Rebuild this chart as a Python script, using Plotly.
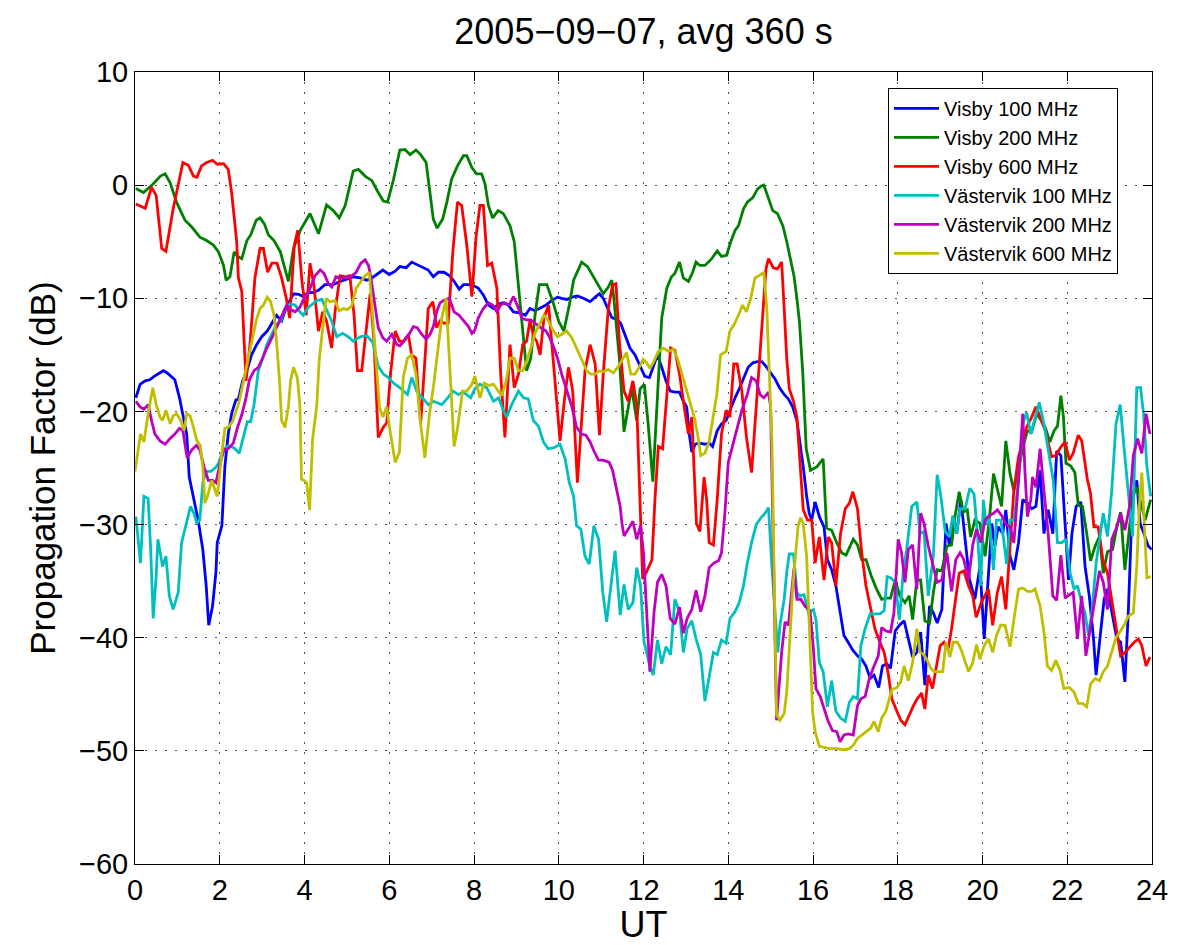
import plotly.graph_objects as go

# (UT hour, propagation factor dB)
visby_100 = [
    (0.02, -18.8), (0.12, -17.6), (0.24, -17.3), (0.35, -17.2), (0.45, -16.9), (0.55, -16.7), (0.67, -16.4),
    (0.76, -16.6), (0.87, -17.0), (0.94, -17.2), (1.05, -18.8), (1.14, -20.5), (1.22, -22.0), (1.28, -25.8),
    (1.39, -27.8), (1.49, -29.6), (1.6, -32.2), (1.68, -35.4), (1.74, -38.9), (1.83, -37.2), (1.91, -34.2),
    (1.94, -31.6), (2.05, -30.1), (2.12, -24.9), (2.2, -22.0), (2.28, -20.2), (2.38, -19.0), (2.44, -18.9),
    (2.54, -17.3), (2.64, -16.4), (2.75, -15.0), (2.87, -14.1), (2.99, -13.4), (3.12, -12.9), (3.23, -12.2),
    (3.34, -11.5), (3.46, -12.0), (3.56, -10.9), (3.64, -10.3), (3.74, -9.6), (3.86, -9.65), (3.97, -9.85),
    (4.09, -9.5), (4.2, -9.5), (4.33, -9.3), (4.48, -8.8), (4.68, -8.8), (4.84, -8.5), (5.0, -8.3),
    (5.15, -8.1), (5.31, -8.2), (5.47, -8.4), (5.59, -8.2), (5.7, -7.9), (5.85, -7.5), (6.0, -7.9),
    (6.14, -7.6), (6.25, -7.2), (6.4, -7.3), (6.53, -6.8), (6.65, -7.0), (6.81, -7.3), (6.92, -7.5),
    (7.04, -8.1), (7.16, -7.7), (7.29, -7.7), (7.42, -8.0), (7.53, -8.5), (7.65, -9.2), (7.75, -8.8),
    (7.87, -8.8), (7.99, -8.9), (8.1, -9.1), (8.22, -9.7), (8.34, -10.6), (8.46, -10.9), (8.58, -10.5),
    (8.69, -10.4), (8.81, -10.6), (8.93, -11.2), (9.09, -11.3), (9.21, -11.5), (9.32, -10.9), (9.44, -11.1),
    (9.56, -10.9), (9.7, -10.6), (9.83, -10.2), (9.97, -9.9), (10.07, -10.0), (10.19, -10.1), (10.31, -9.9),
    (10.44, -9.8), (10.58, -10.0), (10.74, -10.3), (10.86, -9.9), (10.96, -9.6), (11.05, -10.0), (11.15, -10.9),
    (11.25, -11.7), (11.37, -11.9), (11.46, -12.2), (11.56, -13.2), (11.68, -14.4), (11.8, -15.0), (11.92, -16.0),
    (12.03, -16.9), (12.14, -17.0), (12.23, -16.1), (12.33, -15.0), (12.43, -16.1), (12.53, -17.3), (12.63, -18.2),
    (12.74, -18.3), (12.85, -18.3), (12.94, -19.1), (13.02, -19.6), (13.08, -22.0), (13.14, -23.6), (13.22, -22.9),
    (13.33, -22.8), (13.45, -22.9), (13.55, -22.8), (13.63, -23.1), (13.74, -21.7), (13.84, -21.1), (13.95, -20.8),
    (14.04, -19.9), (14.16, -18.8), (14.26, -18.0), (14.37, -17.0), (14.47, -16.1), (14.58, -15.7), (14.69, -15.6),
    (14.79, -15.6), (14.89, -16.0), (15.0, -16.6), (15.1, -17.1), (15.21, -17.9), (15.32, -18.5), (15.42, -18.9),
    (15.52, -19.6), (15.62, -20.8), (15.69, -22.6), (15.77, -24.9), (15.85, -27.5), (15.91, -29.0), (15.97, -29.6),
    (16.05, -28.0), (16.15, -29.3), (16.26, -30.2), (16.34, -33.1), (16.44, -34.0), (16.54, -35.4), (16.64, -37.8),
    (16.73, -39.8), (16.83, -40.4), (16.94, -41.1), (17.05, -41.6), (17.15, -41.9), (17.25, -42.5), (17.35, -43.6),
    (17.44, -43.3), (17.55, -44.4), (17.64, -42.5), (17.74, -42.3), (17.83, -42.7), (17.94, -39.4), (18.04, -38.9),
    (18.15, -38.5), (18.25, -40.1), (18.35, -41.7), (18.45, -41.3), (18.54, -39.5), (18.64, -44.2), (18.75, -37.2),
    (18.84, -37.8), (18.93, -38.7), (19.04, -37.5), (19.14, -29.9), (19.22, -31.9), (19.31, -29.3), (19.39, -30.8),
    (19.49, -27.8), (19.59, -31.3), (19.69, -34.8), (19.82, -36.6), (19.94, -33.7), (20.04, -40.1), (20.14, -34.6),
    (20.22, -29.9), (20.29, -31.9), (20.37, -30.2), (20.48, -30.8), (20.55, -28.7), (20.65, -32.8), (20.74, -34.0),
    (20.85, -31.6), (20.95, -27.8), (21.06, -28.1), (21.16, -28.6), (21.26, -28.4), (21.36, -25.2), (21.45, -30.8),
    (21.55, -28.7), (21.66, -30.8), (21.75, -23.5), (21.85, -23.9), (21.92, -28.4), (22.03, -34.9), (22.11, -30.8),
    (22.21, -28.4), (22.32, -28.0), (22.42, -33.7), (22.52, -36.3), (22.62, -40.1), (22.68, -43.3), (22.77, -40.1),
    (22.87, -36.6), (22.95, -35.7), (23.05, -37.8), (23.17, -40.1), (23.26, -40.4), (23.36, -43.9), (23.44, -37.8),
    (23.54, -27.5), (23.64, -26.1), (23.72, -29.9), (23.81, -30.8), (23.91, -31.9), (23.99, -32.2),
]

visby_200 = [
    (0.02, -0.3), (0.2, -0.65), (0.4, 0.0), (0.6, 0.8), (0.71, 1.0), (0.83, 0.2), (0.98, -1.5), (1.18, -3.1),
    (1.34, -3.7), (1.53, -4.6), (1.69, -4.9), (1.85, -5.3), (1.97, -5.9), (2.09, -7.1), (2.15, -8.4), (2.24, -8.1),
    (2.34, -5.9), (2.42, -6.3), (2.52, -6.5), (2.64, -4.9), (2.73, -4.4), (2.86, -3.1), (2.95, -2.9), (3.05, -3.4),
    (3.15, -4.4), (3.28, -4.9), (3.43, -5.9), (3.54, -7.4), (3.62, -8.5), (3.74, -5.6), (3.9, -4.0), (4.13, -2.5),
    (4.33, -4.3), (4.52, -1.75), (4.68, -2.25), (4.82, -2.9), (4.96, -1.8), (5.15, 1.25), (5.27, 1.4), (5.43, 0.8),
    (5.59, 0.4), (5.74, -0.65), (5.86, -1.4), (5.96, -1.5), (6.1, 0.5), (6.25, 3.1), (6.37, 3.15), (6.49, 2.7),
    (6.63, 3.1), (6.74, 2.7), (6.87, 2.0), (6.96, -0.65), (7.04, -3.0), (7.13, -3.8), (7.26, -3.0), (7.36, -1.5),
    (7.47, 0.5), (7.61, 1.7), (7.75, 2.6), (7.83, 2.6), (7.95, 1.55), (8.06, 1.0), (8.18, 1.0), (8.26, 0.1),
    (8.34, -1.8), (8.44, -2.9), (8.57, -2.25), (8.69, -2.5), (8.85, -3.6), (8.95, -5.0), (9.05, -8.8), (9.15, -13.2),
    (9.24, -16.4), (9.34, -15.3), (9.44, -11.5), (9.54, -8.8), (9.72, -8.8), (9.86, -10.3), (10.0, -12.05),
    (10.12, -12.9), (10.25, -10.6), (10.35, -8.4), (10.42, -7.8), (10.54, -6.8), (10.68, -7.2), (10.8, -8.0),
    (10.94, -9.0), (11.05, -9.6), (11.17, -9.0), (11.25, -8.4), (11.3, -10.0), (11.43, -15.3), (11.54, -21.8),
    (11.62, -20.2), (11.72, -17.9), (11.84, -20.8), (11.92, -18.0), (12.02, -17.6), (12.11, -21.1), (12.22, -26.2),
    (12.43, -11.75), (12.55, -9.1), (12.66, -8.1), (12.74, -7.8), (12.85, -6.8), (12.94, -8.2), (13.06, -8.5),
    (13.16, -7.7), (13.24, -6.8), (13.33, -7.1), (13.45, -7.1), (13.61, -6.5), (13.74, -5.8), (13.84, -6.3),
    (13.96, -6.2), (14.06, -5.0), (14.16, -4.0), (14.24, -3.6), (14.36, -2.1), (14.45, -1.5), (14.58, -1.1),
    (14.69, -0.35), (14.77, -0.1), (14.84, 0.0), (14.95, -1.1), (15.05, -2.25), (15.16, -2.5), (15.29, -3.6),
    (15.38, -5.0), (15.47, -6.5), (15.55, -8.0), (15.61, -9.7), (15.68, -12.05), (15.76, -16.7), (15.84, -23.3),
    (15.94, -25.2), (16.09, -24.9), (16.24, -24.2), (16.32, -30.3), (16.44, -30.5), (16.56, -31.6), (16.68, -32.5),
    (16.78, -32.7), (16.95, -31.3), (17.05, -31.8), (17.15, -33.1), (17.25, -33.1), (17.38, -34.6), (17.5, -35.7),
    (17.62, -36.6), (17.72, -36.5), (17.83, -36.5), (17.94, -34.9), (18.05, -36.3), (18.17, -36.9), (18.27, -36.3),
    (18.35, -38.4), (18.45, -34.9), (18.54, -34.9), (18.64, -38.5), (18.75, -38.7), (18.84, -36.0), (18.93, -34.0),
    (19.04, -34.1), (19.16, -31.9), (19.27, -31.8), (19.35, -29.3), (19.45, -27.1), (19.55, -28.9), (19.64, -28.7),
    (19.72, -31.1), (19.82, -29.6), (19.94, -29.9), (20.06, -32.8), (20.16, -29.6), (20.26, -25.5), (20.35, -27.0),
    (20.45, -28.4), (20.55, -22.6), (20.65, -25.5), (20.74, -27.0), (20.85, -25.2), (20.95, -23.2), (21.06, -21.7),
    (21.16, -21.8), (21.28, -20.2), (21.37, -20.7), (21.48, -21.4), (21.59, -22.7), (21.69, -21.7), (21.77, -21.3),
    (21.85, -18.6), (21.91, -20.5), (21.97, -24.6), (22.08, -24.8), (22.18, -25.4), (22.26, -28.3), (22.36, -28.4),
    (22.46, -30.8), (22.55, -33.2), (22.66, -31.9), (22.76, -31.05), (22.85, -34.3), (22.95, -32.4), (23.07, -32.2),
    (23.17, -30.2), (23.26, -28.9), (23.36, -34.0), (23.47, -30.2), (23.56, -27.4), (23.64, -26.7), (23.76, -28.4),
    (23.84, -29.6), (23.91, -28.6), (23.97, -27.8),
]

visby_600 = [
    (0.02, -1.67), (0.24, -2.05), (0.39, -0.2), (0.5, -0.9), (0.63, -5.6), (0.73, -5.85), (0.9, -2.1), (1.13, 2.0),
    (1.26, 1.75), (1.38, 0.8), (1.46, 0.7), (1.57, 1.7), (1.69, 2.0), (1.83, 2.2), (1.94, 1.85), (2.09, 1.9),
    (2.2, 1.4), (2.28, -0.65), (2.4, -5.0), (2.44, -8.2), (2.52, -9.4), (2.62, -17.3), (2.72, -13.8), (2.83, -8.2),
    (2.95, -5.6), (3.03, -5.6), (3.13, -7.7), (3.23, -6.9), (3.35, -6.9), (3.46, -8.2), (3.57, -10.0), (3.65, -11.75),
    (3.76, -5.3), (3.84, -4.0), (3.94, -8.5), (4.04, -11.5), (4.13, -6.9), (4.22, -8.8), (4.33, -12.9), (4.43, -11.2),
    (4.52, -12.0), (4.64, -14.4), (4.72, -11.2), (4.84, -8.0), (4.96, -8.1), (5.07, -8.0), (5.17, -11.5),
    (5.25, -16.4), (5.35, -16.4), (5.43, -13.8), (5.55, -9.6), (5.64, -13.8), (5.74, -22.3), (5.86, -21.4),
    (5.94, -21.0), (6.03, -16.7), (6.14, -12.9), (6.24, -13.8), (6.33, -13.8), (6.45, -13.2), (6.53, -15.0),
    (6.63, -15.3), (6.74, -21.1), (6.82, -16.7), (6.92, -10.9), (7.03, -10.3), (7.12, -12.6), (7.2, -12.0),
    (7.29, -12.2), (7.39, -12.2), (7.5, -5.9), (7.61, -1.5), (7.71, -1.8), (7.83, -5.3), (7.95, -9.85), (8.05, -4.5),
    (8.14, -1.8), (8.22, -1.8), (8.32, -7.1), (8.42, -6.9), (8.54, -9.1), (8.63, -16.7), (8.73, -22.3), (8.85, -14.1),
    (8.95, -17.9), (9.05, -16.7), (9.15, -14.1), (9.24, -13.8), (9.32, -12.0), (9.42, -13.5), (9.48, -13.8),
    (9.56, -15.0), (9.65, -11.75), (9.76, -10.6), (9.86, -15.0), (9.95, -19.1), (10.03, -22.6), (10.13, -19.1),
    (10.23, -16.1), (10.33, -18.2), (10.44, -26.3), (10.62, -16.4), (10.74, -14.1), (10.86, -15.8), (10.96, -22.1),
    (11.05, -16.7), (11.17, -10.9), (11.27, -8.8), (11.35, -8.7), (11.43, -13.8), (11.54, -18.2), (11.64, -19.1),
    (11.75, -17.3), (11.84, -19.4), (11.98, -34.8), (12.07, -34.2), (12.2, -33.1), (12.27, -27.8), (12.35, -23.1),
    (12.45, -23.3), (12.55, -18.2), (12.64, -14.4), (12.74, -14.6), (12.85, -16.7), (12.96, -19.6), (13.06, -22.0),
    (13.14, -20.5), (13.22, -26.9), (13.25, -29.9), (13.33, -30.6), (13.43, -25.8), (13.49, -27.8), (13.55, -31.6),
    (13.65, -31.8), (13.74, -27.8), (13.84, -22.0), (13.95, -19.9), (14.04, -20.5), (14.13, -15.8), (14.21, -15.8),
    (14.32, -18.2), (14.43, -22.3), (14.55, -25.4), (14.67, -19.1), (14.79, -12.3), (14.89, -7.4), (14.95, -6.5),
    (15.06, -7.3), (15.16, -7.4), (15.26, -6.8), (15.32, -10.9), (15.38, -15.3), (15.44, -18.0), (15.54, -19.1),
    (15.62, -20.5), (15.71, -25.0), (15.77, -28.7), (15.87, -29.6), (15.97, -29.6), (16.05, -33.4), (16.15, -31.1),
    (16.26, -34.9), (16.36, -31.1), (16.44, -31.6), (16.54, -35.4), (16.65, -30.8), (16.76, -28.6), (16.86, -28.1),
    (16.94, -27.1), (17.05, -28.6), (17.15, -32.5), (17.25, -35.4), (17.36, -37.5), (17.46, -39.2), (17.58, -40.4),
    (17.68, -41.3), (17.78, -43.3), (17.86, -45.4), (17.98, -46.5), (18.07, -47.3), (18.17, -47.7), (18.27, -46.8),
    (18.37, -46.0), (18.46, -45.4), (18.56, -44.9), (18.64, -46.3), (18.72, -43.3), (18.82, -44.5), (18.92, -42.5),
    (19.0, -40.7), (19.09, -40.4), (19.19, -41.0), (19.27, -39.2), (19.37, -36.6), (19.45, -34.3), (19.56, -34.1),
    (19.67, -35.4), (19.77, -36.3), (19.85, -38.2), (19.98, -36.8), (20.14, -35.7), (20.24, -38.9), (20.35, -36.0),
    (20.45, -34.6), (20.55, -37.5), (20.65, -31.9), (20.74, -27.0), (20.85, -24.0), (20.95, -22.6), (21.04, -21.4),
    (21.16, -20.5), (21.26, -19.6), (21.36, -20.5), (21.48, -21.7), (21.63, -24.0), (21.73, -23.9), (21.84, -23.2),
    (21.95, -22.7), (22.05, -24.3), (22.14, -23.7), (22.26, -22.1), (22.34, -22.6), (22.42, -24.6), (22.47, -25.9),
    (22.55, -27.3), (22.63, -30.2), (22.73, -30.2), (22.84, -33.1), (22.95, -34.3), (23.05, -36.6), (23.17, -39.5),
    (23.26, -41.6), (23.36, -41.3), (23.47, -40.8), (23.58, -40.4), (23.68, -40.1), (23.76, -40.7), (23.86, -42.5),
    (23.95, -41.7),
]

vastervik_100 = [
    (0.02, -29.3), (0.08, -31.3), (0.13, -33.4), (0.21, -27.5), (0.31, -27.7), (0.37, -32.2), (0.43, -38.3),
    (0.5, -34.5), (0.54, -31.3), (0.61, -32.8), (0.65, -33.7), (0.73, -32.8), (0.81, -36.3), (0.9, -37.5),
    (1.02, -36.0), (1.1, -31.6), (1.2, -30.1), (1.31, -28.4), (1.39, -29.0), (1.46, -29.9), (1.53, -29.6),
    (1.6, -26.3), (1.68, -25.3), (1.79, -25.3), (1.89, -25.0), (1.97, -24.6), (2.05, -23.7), (2.16, -23.1),
    (2.28, -23.1), (2.36, -23.3), (2.46, -23.7), (2.56, -22.2), (2.65, -20.9), (2.73, -20.9), (2.81, -19.4),
    (2.91, -16.4), (2.99, -15.6), (3.11, -14.1), (3.23, -13.2), (3.34, -12.3), (3.44, -12.0), (3.54, -10.9),
    (3.66, -10.5), (3.78, -10.6), (3.89, -11.2), (3.97, -11.5), (4.09, -10.8), (4.29, -10.2), (4.41, -10.1),
    (4.51, -10.9), (4.64, -12.0), (4.76, -13.4), (4.9, -13.1), (5.03, -13.4), (5.15, -13.8), (5.31, -13.4),
    (5.47, -13.3), (5.61, -13.9), (5.74, -16.0), (5.86, -16.7), (5.98, -17.0), (6.1, -17.5), (6.25, -17.9),
    (6.43, -18.5), (6.53, -17.0), (6.65, -18.2), (6.79, -18.8), (6.92, -19.4), (7.04, -19.1), (7.24, -19.4),
    (7.36, -18.9), (7.5, -18.2), (7.63, -18.5), (7.75, -18.3), (7.92, -18.8), (8.02, -18.0), (8.14, -17.6),
    (8.3, -17.9), (8.46, -19.1), (8.58, -18.8), (8.69, -19.9), (8.77, -20.5), (8.89, -19.4), (9.05, -18.2),
    (9.17, -18.8), (9.28, -18.9), (9.4, -20.8), (9.52, -21.3), (9.64, -22.7), (9.75, -23.3), (9.89, -23.2),
    (10.03, -22.9), (10.15, -24.2), (10.25, -26.3), (10.35, -27.5), (10.42, -30.1), (10.52, -30.4), (10.62, -32.8),
    (10.72, -33.5), (10.83, -30.1), (10.94, -31.3), (11.04, -36.0), (11.13, -38.6), (11.23, -35.7), (11.33, -32.3),
    (11.45, -38.0), (11.54, -35.3), (11.64, -37.5), (11.75, -36.9), (11.84, -33.8), (11.93, -35.4), (12.01, -40.3),
    (12.14, -42.4), (12.23, -43.3), (12.33, -40.2), (12.43, -42.3), (12.53, -40.8), (12.64, -41.5), (12.74, -36.6),
    (12.85, -37.7), (12.94, -41.3), (13.03, -39.2), (13.14, -38.5), (13.24, -40.1), (13.35, -41.5), (13.45, -45.6),
    (13.55, -43.3), (13.65, -41.3), (13.74, -41.5), (13.84, -40.2), (13.95, -40.5), (14.04, -38.3), (14.16, -37.7),
    (14.26, -36.9), (14.36, -35.4), (14.45, -33.4), (14.55, -31.6), (14.66, -30.0), (14.77, -29.4), (14.87, -29.0),
    (14.95, -28.5), (15.03, -33.7), (15.17, -41.3), (15.22, -38.9), (15.32, -36.6), (15.38, -34.2), (15.44, -32.6),
    (15.54, -32.6), (15.62, -36.0), (15.68, -36.3), (15.79, -36.2), (15.89, -37.8), (16.01, -37.5), (16.07, -38.4),
    (16.15, -42.2), (16.24, -43.0), (16.34, -46.1), (16.44, -43.8), (16.54, -46.5), (16.65, -47.1), (16.76, -47.4),
    (16.86, -45.7), (16.95, -45.2), (17.05, -45.4), (17.13, -40.7), (17.23, -39.2), (17.35, -37.9), (17.46, -37.9),
    (17.58, -37.9), (17.68, -37.6), (17.75, -34.6), (17.83, -34.7), (17.94, -35.1), (18.04, -38.4), (18.13, -34.1),
    (18.21, -32.2), (18.33, -28.4), (18.45, -28.0), (18.53, -30.8), (18.62, -30.6), (18.72, -36.3), (18.84, -32.8),
    (18.93, -25.6), (19.01, -27.3), (19.12, -30.6), (19.22, -31.1), (19.3, -29.2), (19.39, -30.8), (19.47, -28.6),
    (19.59, -28.6), (19.7, -26.8), (19.8, -27.3), (19.88, -30.8), (19.96, -35.4), (20.02, -27.8), (20.08, -29.9),
    (20.16, -29.4), (20.26, -34.0), (20.33, -29.6), (20.43, -29.6), (20.49, -31.05), (20.57, -33.5), (20.65, -29.6),
    (20.74, -29.6), (20.85, -26.1), (20.95, -21.1), (21.04, -20.1), (21.14, -22.0), (21.24, -20.5), (21.34, -19.2),
    (21.45, -21.1), (21.55, -23.5), (21.67, -26.1), (21.77, -31.6), (21.87, -31.6), (21.97, -31.3), (22.07, -34.3),
    (22.16, -35.7), (22.24, -35.4), (22.34, -36.9), (22.42, -37.8), (22.5, -39.8), (22.58, -37.8), (22.68, -33.4),
    (22.77, -30.8), (22.85, -29.0), (22.95, -31.05), (23.05, -27.0), (23.15, -21.1), (23.25, -19.4), (23.34, -23.2),
    (23.44, -27.0), (23.54, -31.05), (23.64, -17.9), (23.73, -17.9), (23.8, -20.2), (23.88, -24.9), (23.97, -27.5),
]

vastervik_200 = [
    (0.02, -19.1), (0.12, -19.6), (0.21, -19.8), (0.31, -19.4), (0.39, -20.8), (0.47, -22.0), (0.59, -22.6),
    (0.71, -22.9), (0.83, -22.4), (0.94, -22.0), (1.05, -21.5), (1.13, -21.7), (1.23, -24.1), (1.34, -23.4),
    (1.45, -23.0), (1.53, -23.4), (1.63, -24.9), (1.73, -26.1), (1.83, -26.1), (1.91, -26.3), (2.0, -24.7),
    (2.1, -23.4), (2.2, -23.3), (2.32, -22.8), (2.42, -21.4), (2.52, -20.3), (2.62, -18.8), (2.7, -17.2),
    (2.81, -16.4), (2.91, -16.1), (3.01, -15.3), (3.11, -14.4), (3.23, -13.5), (3.34, -12.6), (3.46, -11.5),
    (3.58, -10.6), (3.67, -11.0), (3.78, -11.2), (3.89, -10.8), (3.99, -10.0), (4.09, -9.5), (4.25, -8.0),
    (4.37, -7.5), (4.46, -7.8), (4.56, -8.7), (4.64, -9.0), (4.74, -8.1), (4.84, -8.2), (4.96, -8.2), (5.09, -8.1),
    (5.22, -7.7), (5.33, -6.9), (5.43, -6.6), (5.51, -7.1), (5.56, -8.0), (5.64, -10.0), (5.74, -12.6),
    (5.85, -13.5), (5.94, -13.8), (6.06, -13.2), (6.18, -14.1), (6.25, -14.2), (6.37, -13.7), (6.48, -13.1),
    (6.57, -12.5), (6.66, -12.6), (6.77, -13.2), (6.87, -13.6), (6.96, -13.2), (7.04, -12.5), (7.12, -11.2),
    (7.2, -10.4), (7.32, -10.1), (7.42, -10.0), (7.53, -11.2), (7.65, -11.5), (7.76, -12.0), (7.87, -12.5),
    (7.95, -13.1), (8.02, -12.8), (8.1, -11.75), (8.22, -10.9), (8.34, -10.4), (8.44, -10.6), (8.54, -11.2),
    (8.63, -10.6), (8.73, -10.4), (8.83, -10.6), (8.93, -9.85), (9.02, -10.6), (9.13, -11.75), (9.23, -11.9),
    (9.34, -11.9), (9.46, -12.3), (9.57, -12.6), (9.7, -12.9), (9.79, -13.5), (9.89, -14.4), (9.97, -15.3),
    (10.07, -16.7), (10.19, -18.2), (10.31, -19.6), (10.42, -21.4), (10.54, -22.0), (10.64, -22.1), (10.74, -22.7),
    (10.83, -23.5), (10.94, -24.3), (11.05, -24.3), (11.19, -24.5), (11.27, -25.2), (11.33, -26.3), (11.38, -27.2),
    (11.45, -28.4), (11.49, -29.85), (11.54, -31.0), (11.64, -30.4), (11.75, -29.7), (11.84, -31.3), (11.93, -30.1),
    (12.0, -32.5), (12.07, -37.2), (12.15, -43.0), (12.25, -37.7), (12.33, -35.1), (12.43, -34.4), (12.53, -35.4),
    (12.63, -38.3), (12.74, -38.8), (12.85, -37.3), (12.94, -39.6), (13.03, -38.3), (13.14, -37.5), (13.24, -35.8),
    (13.35, -37.7), (13.45, -36.3), (13.55, -33.8), (13.66, -33.4), (13.77, -33.2), (13.84, -32.5), (13.92, -29.0),
    (14.0, -24.5), (14.1, -23.1), (14.21, -21.4), (14.32, -19.9), (14.45, -18.5), (14.55, -17.0), (14.66, -17.3),
    (14.75, -18.5), (14.84, -18.8), (14.95, -18.3), (15.0, -19.6), (15.14, -47.3), (15.26, -41.3), (15.34, -38.6),
    (15.42, -38.9), (15.5, -35.4), (15.55, -33.9), (15.62, -36.6), (15.71, -36.6), (15.81, -37.2), (15.93, -37.6),
    (16.01, -41.0), (16.07, -44.5), (16.17, -45.2), (16.26, -46.3), (16.36, -47.4), (16.46, -48.2), (16.56, -48.3),
    (16.64, -49.2), (16.73, -48.6), (16.83, -48.5), (16.95, -48.6), (17.05, -46.0), (17.13, -45.4), (17.23, -45.2),
    (17.33, -43.6), (17.42, -42.7), (17.54, -41.6), (17.62, -39.1), (17.72, -39.4), (17.83, -39.5), (17.91, -37.8),
    (18.01, -31.3), (18.09, -32.5), (18.17, -35.1), (18.25, -32.2), (18.35, -31.8), (18.45, -35.7), (18.54, -29.0),
    (18.62, -29.9), (18.72, -31.9), (18.84, -33.7), (18.93, -35.1), (19.04, -34.9), (19.16, -32.5), (19.27, -35.9),
    (19.37, -33.1), (19.47, -32.5), (19.56, -33.1), (19.67, -34.9), (19.77, -31.8), (19.86, -30.4), (19.96, -31.6),
    (20.06, -29.6), (20.16, -29.2), (20.26, -29.0), (20.35, -28.7), (20.45, -29.2), (20.55, -30.0), (20.65, -30.2),
    (20.74, -31.6), (20.85, -26.1), (20.95, -20.2), (21.0, -25.2), (21.06, -29.3), (21.14, -27.8), (21.18, -25.8),
    (21.26, -26.7), (21.36, -23.3), (21.45, -27.0), (21.55, -30.8), (21.66, -36.3), (21.75, -36.7), (21.85, -32.7),
    (21.95, -36.5), (22.05, -36.2), (22.14, -36.0), (22.24, -40.1), (22.34, -36.3), (22.44, -41.6), (22.55, -38.9),
    (22.66, -36.3), (22.76, -34.1), (22.85, -35.1), (22.95, -37.5), (23.05, -31.3), (23.17, -30.2), (23.26, -29.0),
    (23.36, -30.5), (23.47, -28.4), (23.56, -23.9), (23.66, -22.4), (23.76, -23.7), (23.86, -20.2), (23.95, -22.0),
]

vastervik_600 = [
    (0.0, -25.3), (0.08, -23.4), (0.13, -22.0), (0.21, -22.7), (0.31, -20.2), (0.42, -17.9), (0.5, -19.4),
    (0.59, -20.5), (0.65, -20.8), (0.73, -19.9), (0.83, -21.1), (0.9, -20.4), (0.98, -20.2), (1.08, -20.8),
    (1.16, -21.7), (1.22, -20.2), (1.3, -20.4), (1.38, -21.4), (1.46, -22.6), (1.54, -23.0), (1.6, -24.9),
    (1.65, -28.1), (1.71, -27.5), (1.81, -26.1), (1.89, -26.9), (1.94, -27.5), (2.05, -23.7), (2.12, -21.5),
    (2.2, -21.4), (2.3, -20.9), (2.42, -19.6), (2.46, -19.1), (2.56, -17.3), (2.65, -15.8), (2.75, -14.1),
    (2.86, -12.0), (2.95, -10.9), (3.03, -10.6), (3.12, -9.9), (3.2, -10.3), (3.28, -11.5), (3.34, -13.8),
    (3.41, -17.3), (3.46, -20.8), (3.54, -21.4), (3.62, -19.6), (3.67, -17.3), (3.74, -16.1), (3.83, -17.0),
    (3.89, -19.4), (3.93, -26.0), (3.99, -26.1), (4.05, -26.3), (4.12, -28.7), (4.19, -22.5), (4.29, -19.4),
    (4.35, -15.3), (4.43, -12.9), (4.51, -10.0), (4.6, -10.3), (4.72, -10.2), (4.82, -11.1), (4.92, -10.9),
    (5.01, -11.0), (5.11, -10.7), (5.22, -9.1), (5.33, -8.5), (5.43, -8.0), (5.53, -7.7), (5.61, -11.75),
    (5.69, -16.1), (5.77, -19.6), (5.85, -20.5), (5.94, -19.6), (6.03, -22.0), (6.14, -24.5), (6.24, -23.6),
    (6.29, -19.9), (6.33, -17.0), (6.43, -15.3), (6.53, -15.0), (6.63, -16.7), (6.74, -21.1), (6.84, -24.1),
    (6.95, -20.2), (7.04, -17.9), (7.14, -14.7), (7.24, -11.75), (7.34, -10.0), (7.43, -16.7), (7.53, -23.1),
    (7.61, -21.5), (7.73, -18.2), (7.83, -18.2), (7.95, -17.6), (8.02, -16.9), (8.14, -18.8), (8.24, -17.5),
    (8.34, -17.7), (8.46, -17.6), (8.58, -18.2), (8.65, -18.6), (8.76, -17.3), (8.85, -15.3), (8.95, -15.3),
    (9.05, -16.4), (9.15, -16.4), (9.24, -15.6), (9.34, -14.4), (9.44, -13.1), (9.56, -12.2), (9.65, -11.5),
    (9.76, -12.0), (9.86, -12.8), (9.97, -13.4), (10.07, -13.2), (10.19, -12.9), (10.31, -13.5), (10.42, -14.4),
    (10.54, -15.3), (10.66, -16.4), (10.75, -16.7), (10.86, -16.7), (10.96, -16.4), (11.05, -16.5), (11.17, -16.3),
    (11.29, -16.6), (11.41, -16.0), (11.51, -15.3), (11.6, -14.8), (11.7, -16.7), (11.8, -16.7), (11.9, -16.1),
    (11.99, -15.4), (12.08, -15.7), (12.15, -16.2), (12.23, -15.7), (12.35, -14.7), (12.47, -14.4), (12.59, -14.7),
    (12.7, -14.5), (12.8, -15.3), (12.9, -16.6), (13.0, -18.0), (13.1, -19.4), (13.21, -20.7), (13.29, -22.3),
    (13.35, -23.9), (13.45, -23.7), (13.55, -22.6), (13.63, -20.8), (13.73, -18.5), (13.82, -15.0), (13.95, -14.7),
    (14.04, -12.9), (14.14, -12.3), (14.24, -11.5), (14.34, -10.6), (14.43, -11.2), (14.53, -10.0), (14.63, -8.2),
    (14.73, -8.0), (14.84, -7.7), (14.91, -10.9), (14.97, -16.7), (15.03, -22.6), (15.14, -46.8), (15.22, -47.3),
    (15.32, -46.7), (15.38, -44.8), (15.44, -41.0), (15.52, -35.7), (15.6, -32.2), (15.65, -30.1), (15.71, -29.4),
    (15.77, -29.9), (15.85, -32.8), (15.93, -40.7), (15.99, -46.5), (16.05, -48.3), (16.15, -49.6), (16.26, -49.7),
    (16.4, -49.8), (16.56, -49.8), (16.72, -49.9), (16.86, -49.8), (16.95, -49.5), (17.05, -48.9), (17.15, -48.6),
    (17.25, -48.3), (17.36, -48.0), (17.44, -47.4), (17.54, -48.3), (17.62, -47.1), (17.72, -46.5), (17.8, -45.4),
    (17.86, -44.6), (17.98, -44.4), (18.07, -43.9), (18.15, -42.5), (18.25, -43.8), (18.35, -42.2), (18.45, -39.2),
    (18.53, -41.3), (18.59, -41.4), (18.68, -41.9), (18.78, -42.7), (18.86, -43.0), (18.96, -43.0), (19.06, -43.0),
    (19.14, -40.4), (19.23, -41.7), (19.31, -40.4), (19.41, -40.4), (19.49, -41.0), (19.59, -42.2), (19.67, -43.0),
    (19.77, -42.2), (19.86, -40.6), (19.94, -41.9), (20.04, -40.7), (20.14, -40.1), (20.24, -41.3), (20.33, -39.8),
    (20.43, -38.9), (20.53, -38.9), (20.65, -40.8), (20.74, -38.4), (20.85, -35.7), (20.95, -35.6), (21.06, -35.9),
    (21.16, -35.9), (21.24, -35.7), (21.36, -37.2), (21.45, -39.5), (21.53, -42.5), (21.63, -42.9), (21.73, -42.0),
    (21.83, -42.9), (21.92, -44.5), (22.05, -44.4), (22.16, -44.8), (22.26, -45.8), (22.36, -45.8), (22.46, -46.1),
    (22.55, -44.1), (22.66, -43.6), (22.76, -43.8), (22.85, -43.0), (22.95, -42.5), (23.05, -41.3), (23.15, -40.0),
    (23.26, -39.4), (23.34, -38.9), (23.44, -38.1), (23.56, -37.8), (23.64, -33.7), (23.7, -28.4), (23.76, -25.4),
    (23.81, -29.0), (23.88, -34.7), (23.97, -34.6),
]

series_names = ["Visby 100 MHz", "Visby 200 MHz", "Visby 600 MHz",
                "Västervik 100 MHz", "Västervik 200 MHz", "Västervik 600 MHz"]
series_data = [visby_100, visby_200, visby_600, vastervik_100, vastervik_200, vastervik_600]
series_colors = ["#0000FF", "#008000", "#FF0000", "#00BFBF", "#BF00BF", "#BFBF00"]

x_ticks = list(range(0, 25, 2))
y_ticks = list(range(-60, 11, 10))

FONT = "Liberation Sans, Arial, Helvetica, sans-serif"

fig = go.Figure()
for name, data, color in zip(series_names, series_data, series_colors):
    xs = [p[0] for p in data]
    ys = [p[1] for p in data]
    fig.add_trace(go.Scatter(x=xs, y=ys, mode="lines", name=name,
                             line=dict(color=color, width=2.8)))

axis_common = dict(
    showline=True, linecolor="black", linewidth=1, mirror="ticks",
    ticks="inside", ticklen=9, tickwidth=1, tickcolor="black",
    showgrid=True, gridcolor="#555555", gridwidth=1, griddash="2px,8px",
    zeroline=False, tickfont=dict(family=FONT, size=29, color="black"),
)

fig.update_layout(
    width=1190, height=937,
    paper_bgcolor="white", plot_bgcolor="white",
    margin=dict(l=127, r=46, t=64, b=79),
    title=dict(text="2005\u221209\u221207, avg 360 s", x=0.5, xanchor="center",
               xref="paper", y=0.975, yanchor="middle",
               font=dict(family=FONT, size=36, color="black")),
    xaxis=dict(range=[0, 24], tickvals=x_ticks, title=dict(text="UT", standoff=2,
               font=dict(family=FONT, size=36, color="black")), **axis_common),
    yaxis=dict(range=[-60, 10], tickvals=y_ticks, title=dict(text="Propagation Factor (dB)", standoff=12,
               font=dict(family=FONT, size=35, color="black")), **axis_common),
    legend=dict(x=0.9666, y=0.98, xanchor="right", yanchor="top",
                bgcolor="white", bordercolor="black", borderwidth=1,
                font=dict(family=FONT, size=20, color="black"),
                itemwidth=45, tracegroupgap=0),
    showlegend=True,
)

fig.write_html("out.html")
